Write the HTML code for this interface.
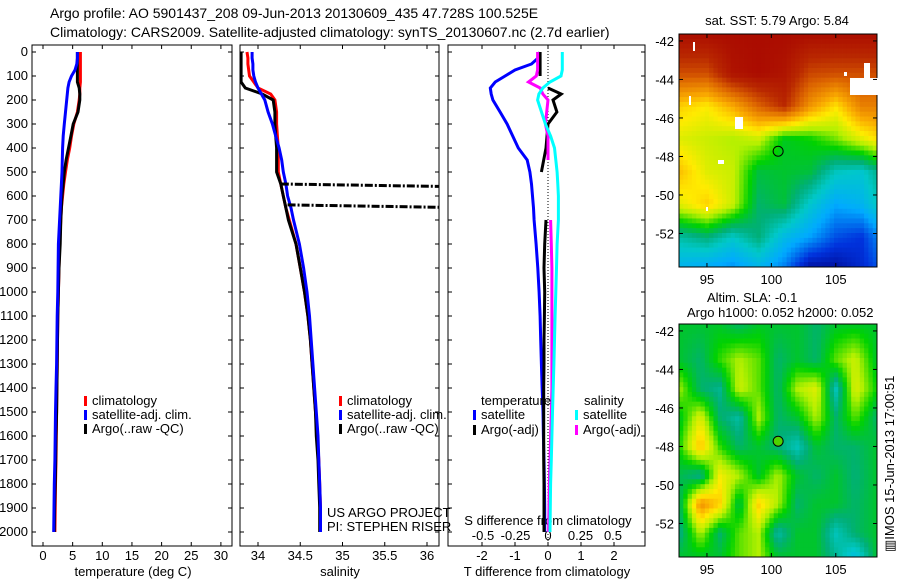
<!DOCTYPE html>
<html><head><meta charset="utf-8">
<style>
html,body{margin:0;padding:0;background:#fff;}
svg{display:block;font-family:"Liberation Sans",sans-serif;}
text{font-size:13px;fill:#000;}
</style></head>
<body>
<svg id="chart" width="900" height="580" viewBox="0 0 900 580" xmlns="http://www.w3.org/2000/svg">
<text x="50" y="18" style="font-size:14px">Argo profile: AO 5901437_208 09-Jun-2013 20130609_435 47.728S 100.525E</text>
<text x="50" y="37" style="font-size:14px">Climatology: CARS2009. Satellite-adjusted climatology: synTS_20130607.nc (2.7d earlier)</text>
<g id="g"></g>
</svg>
<script>
// ---- profile data ----
const depths = [0,25,50,75,100,125,150,175,200,250,300,350,400,450,500,550,600,650,700,800,900,1000,1100,1200,1300,1400,1500,1600,1700,1800,1900,2000];
const tempClim = [6.3,6.3,6.3,6.3,6.3,6.3,6.2,6.2,6.1,5.8,5.2,4.8,4.5,4.1,3.8,3.5,3.3,3.1,3.0,2.8,2.7,2.6,2.5,2.45,2.4,2.35,2.3,2.25,2.2,2.1,2.05,2.0];
const tempSat = [5.8,5.8,5.7,5.4,4.8,4.4,4.2,4.1,4.0,3.8,3.6,3.4,3.3,3.25,3.2,3.1,3.0,2.9,2.8,2.6,2.55,2.5,2.4,2.35,2.3,2.2,2.1,2.05,2.0,1.9,1.85,1.8];
const tempArgo = [5.8,5.8,5.8,5.8,5.8,5.8,6.1,6.2,6.2,5.9,5.1,4.7,4.3,3.9,3.6,3.4,3.2,3.1,3.0,2.9,2.7,2.6,2.5,2.45,2.4,2.35,2.3,2.2,2.15,2.05,1.95,1.9];
const salClim = [33.87,33.88,33.88,33.89,33.9,33.95,34.0,34.15,34.2,34.22,34.22,34.23,34.24,34.24,34.24,34.27,34.3,34.33,34.37,34.45,34.5,34.55,34.59,34.62,34.64,34.66,34.68,34.7,34.72,34.73,34.74,34.74];
const salSat = [33.93,33.93,33.94,33.94,33.95,33.97,34.0,34.04,34.08,34.12,34.17,34.21,34.25,34.28,34.3,34.33,34.35,34.39,34.42,34.49,34.54,34.58,34.61,34.63,34.65,34.67,34.69,34.71,34.72,34.73,34.74,34.74];
const salArgo = [33.8,33.8,33.8,33.8,33.8,33.8,33.85,34.05,34.18,34.2,34.2,34.21,34.22,34.22,34.22,34.27,34.3,34.33,34.36,34.45,34.5,34.55,34.59,34.62,34.64,34.66,34.68,34.69,34.71,34.72,34.73,34.73];
const spikeDepths = [550,637];
const spikeSal = [36.2,36.2];
const tDiffSat = [-0.25,-0.3,-0.5,-1.0,-1.3,-1.6,-1.75,-1.72,-1.67,-1.45,-1.24,-1.07,-0.9,-0.63,-0.55,-0.5,-0.47,-0.44,-0.42,-0.36,-0.31,-0.27,-0.24,-0.22,-0.2,-0.18,-0.15,-0.14,-0.12,-0.11,-0.1,-0.1];
const tDiffArgo = [-0.24,-0.24,-0.24,-0.24,-0.24,null,0,0.4,0.15,0.27,0,-0.03,-0.06,-0.13,-0.2,null,null,null,-0.06,-0.1,-0.12,-0.1,-0.11,-0.12,-0.12,-0.13,-0.13,-0.13,-0.13,-0.12,-0.12,-0.12];
const sDiffSat = [0.11,0.11,0.11,0.11,0.1,0.015,-0.04,-0.07,-0.08,-0.05,-0.02,0.02,0.05,0.06,0.07,0.075,0.08,0.08,0.08,0.07,0.065,0.06,0.055,0.05,0.045,0.04,0.035,0.03,0.025,0.02,0.018,0.015];
const sDiffArgo = [-0.08,-0.08,-0.08,-0.08,-0.09,-0.15,-0.06,-0.04,0,-0.01,-0.02,0,0,0,null,null,null,null,0.02,0.025,0.03,0.03,0.03,0.03,0.03,0.03,0.025,0.02,0.015,0.01,0.008,0.005];
const depthTicks = [0,100,200,300,400,500,600,700,800,900,1000,1100,1200,1300,1400,1500,1600,1700,1800,1900,2000];
const tempTicks = [0,5,10,15,20,25,30];
const salTicks = [34,34.5,35,35.5,36];
const tdTicks = [-2,-1,0,1,2];
const sdTicks = [-0.5,-0.25,0,0.25,0.5];
const sdTickLabels = ["-0.5","-0.25","0","0.25","0.5"];
// ---- map data (coarse grids, 0..1 colour index) ----
const sstLats = [-41.6,-43.7,-45.4,-47.1,-48.8,-50.5,-52.2,-53.8];
const sstLons = [92.8,95,97,99,101,103,105,107,108.2];
const sstRows = [
[0.97,0.97,0.97,0.97,0.97,0.97,0.97,0.97,0.97],
[0.85,0.85,0.95,0.97,0.95,0.86,0.85,0.85,0.85],
[0.68,0.65,0.72,0.82,0.9,0.75,0.66,0.78,0.78],
[0.62,0.6,0.58,0.6,0.48,0.5,0.55,0.62,0.66],
[0.7,0.62,0.6,0.46,0.47,0.46,0.36,0.34,0.4],
[0.62,0.68,0.6,0.43,0.46,0.34,0.25,0.28,0.35],
[0.38,0.42,0.35,0.42,0.3,0.24,0.15,0.12,0.2],
[0.28,0.25,0.22,0.28,0.2,0.04,0.04,0.1,0.15]];
const slaLats = [-41.6,-43.5,-45,-46.5,-48,-49.5,-51,-52.5,-53.8];
const slaLons = [92.8,94.5,96,97.5,99,100.5,102,103.5,105,106.5,108.2];
const slaRows = [
[0.47,0.47,0.47,0.43,0.47,0.47,0.47,0.43,0.47,0.47,0.47],
[0.47,0.43,0.52,0.58,0.54,0.43,0.47,0.43,0.54,0.6,0.47],
[0.58,0.43,0.4,0.6,0.54,0.43,0.58,0.62,0.36,0.62,0.5],
[0.47,0.62,0.43,0.38,0.58,0.43,0.47,0.58,0.43,0.54,0.43],
[0.5,0.7,0.52,0.43,0.47,0.42,0.36,0.47,0.43,0.43,0.47],
[0.45,0.4,0.64,0.58,0.47,0.58,0.47,0.43,0.47,0.42,0.47],
[0.42,0.76,0.68,0.45,0.68,0.58,0.43,0.47,0.47,0.43,0.47],
[0.4,0.58,0.43,0.54,0.58,0.38,0.47,0.47,0.36,0.43,0.47],
[0.47,0.47,0.47,0.54,0.58,0.47,0.47,0.47,0.4,0.3,0.47]];

const NS='http://www.w3.org/2000/svg';
const G=document.getElementById('g');
function mk(tag,attrs,parent){const e=document.createElementNS(NS,tag);for(const k in attrs)e.setAttribute(k,attrs[k]);(parent||G).appendChild(e);return e;}
const yD=d=>52+d*0.24;
const PB=546;
const xT=v=>43+v*5.93;
const xS=v=>258+(v-34)*84.5;
const xTD=v=>548+v*33;
const xSD=v=>548+v*130;

function frame(x0,x1,name){
  const r=mk('rect',{x:x0,y:45,width:x1-x0,height:PB-45,fill:'none',stroke:'#000','stroke-width':1});
  
  
}
function text(x,y,s,name,anchor,extra){
  const t=mk('text',Object.assign({x:x,y:y,'text-anchor':anchor||'start'},extra||{}));
  t.textContent=s;
  
  
  return t;
}
function line(xs,color,name,w){
  let d='',pen=false;
  for(let i=0;i<depths.length;i++){
    const v=xs.vals[i];
    if(v===null||v===undefined){pen=false;continue;}
    d+=(pen?'L':'M')+xs.f(v).toFixed(1)+' '+yD(depths[i]).toFixed(1);pen=true;
  }
  const p=mk('path',{d:d,fill:'none',stroke:color,'stroke-width':w||3,'stroke-linejoin':'miter'});
  
  
}
frame(32,232,'temperature-panel');
frame(240,439,'salinity-panel');
frame(448,645,'difference-panel');
depthTicks.forEach(d=>{
  const y=yD(d);
  text(28,y+4,String(d),'depth-tick-label','end');
  [[32,1],[232,-1],[240,1],[439,-1],[448,1],[645,-1]].forEach(([x,s])=>mk('line',{x1:x,x2:x+4*s,y1:y,y2:y,stroke:'#000'}));
});
tempTicks.forEach(v=>{const x=xT(v);text(x,560,String(v),'temperature-tick-label','middle');mk('line',{x1:x,x2:x,y1:PB,y2:PB-4,stroke:'#000'});mk('line',{x1:x,x2:x,y1:45,y2:49,stroke:'#000'});});
salTicks.forEach(v=>{const x=xS(v);text(x,560,String(v),'salinity-tick-label','middle');mk('line',{x1:x,x2:x,y1:PB,y2:PB-4,stroke:'#000'});mk('line',{x1:x,x2:x,y1:45,y2:49,stroke:'#000'});});
tdTicks.forEach(v=>{const x=xTD(v);text(x,560,String(v),'t-diff-tick-label','middle');mk('line',{x1:x,x2:x,y1:PB,y2:PB-4,stroke:'#000'});mk('line',{x1:x,x2:x,y1:45,y2:49,stroke:'#000'});});
sdTicks.forEach((v,i)=>{text(xSD(v),540,sdTickLabels[i],'s-diff-tick-label','middle');});
text(133,576,'temperature (deg C)','temperature-axis-title','middle');
text(340,576,'salinity','salinity-axis-title','middle');
text(547,576,'T difference from climatology','t-diff-axis-title','middle');
text(548,525,'S difference from climatology','s-diff-axis-title','middle');
text(327,517,'US ARGO PROJECT','project-label');
text(327,531,'PI: STEPHEN RISER','pi-label');
const z=mk('line',{x1:548,x2:548,y1:45,y2:PB,stroke:'#000','stroke-dasharray':'1 2'});

line({vals:tempClim,f:xT},'#f00','temp-climatology-line');
line({vals:tempArgo,f:xT},'#000','temp-argo-line');
line({vals:tempSat,f:xT},'#00f','temp-satellite-line');
line({vals:salClim,f:xS},'#f00','sal-climatology-line');
line({vals:salArgo,f:xS},'#000','sal-argo-line');
line({vals:salSat,f:xS},'#00f','sal-satellite-line');
spikeDepths.forEach((d,i)=>{
  const idx=depths.findIndex(x=>x>=d);
  const s0=salArgo[Math.max(0,idx-1)];
  const p=mk('path',{d:'M'+xS(s0+0.05)+' '+yD(d)+'L'+Math.min(439,xS(spikeSal[i]))+' '+yD(d+10),stroke:'#000','stroke-width':3,'stroke-dasharray':'8 2 2 2',fill:'none'});
  
});
line({vals:tDiffSat,f:xTD},'#00f','tdiff-satellite-line');
line({vals:tDiffArgo,f:xTD},'#000','tdiff-argo-line');
line({vals:sDiffArgo,f:xSD},'#f0f','sdiff-argo-line');
line({vals:sDiffSat,f:xSD},'#0ff','sdiff-satellite-line');
function leg(x,y,color,label){
  const r=mk('rect',{x:x,y:y-9,width:3,height:10,fill:color});
  
  text(x+8,y,label,'legend-entry');
}
[[84,'#f00','climatology'],[84,'#00f','satellite-adj. clim.'],[84,'#000','Argo(..raw -QC)']].forEach((a,i)=>leg(a[0],405+i*14,a[1],a[2]));
[[339,'#f00','climatology'],[339,'#00f','satellite-adj. clim.'],[339,'#000','Argo(..raw -QC)']].forEach((a,i)=>leg(a[0],405+i*14,a[1],a[2]));
text(481,405,'temperature','legend-title-temperature');
text(584,405,'salinity','legend-title-salinity');
leg(473,419,'#00f','satellite');leg(473,434,'#000','Argo(-adj)');
leg(575,419,'#0ff','satellite');leg(575,434,'#f0f','Argo(-adj)');

const stops=[[0,[0,0,130]],[0.12,[0,50,220]],[0.25,[0,170,255]],[0.35,[0,200,200]],[0.42,[0,175,120]],[0.5,[0,210,0]],[0.58,[180,240,0]],[0.65,[255,235,0]],[0.72,[250,170,0]],[0.82,[220,100,0]],[0.9,[185,40,0]],[1,[165,0,0]]];
function cmap(v){v=Math.max(0,Math.min(1,v));for(let i=1;i<stops.length;i++){if(v<=stops[i][0]){const a=stops[i-1],b=stops[i];const t=(v-a[0])/(b[0]-a[0]);const c=a[1].map((x,k)=>Math.round(x+(b[1][k]-x)*t));return 'rgb('+c.join(',')+')';}}return 'rgb(165,0,0)';}
function interp(lats,lons,rows,lat,lon){
  let i=0;while(i<lats.length-2&&lat<lats[i+1])i++;
  let j=0;while(j<lons.length-2&&lon>lons[j+1])j++;
  const ty=Math.max(0,Math.min(1,(lat-lats[i])/(lats[i+1]-lats[i])));
  const tx=Math.max(0,Math.min(1,(lon-lons[j])/(lons[j+1]-lons[j])));
  const a=rows[i][j],b=rows[i][j+1],c=rows[i+1][j],d=rows[i+1][j+1];
  return a*(1-tx)*(1-ty)+b*tx*(1-ty)+c*(1-tx)*ty+d*tx*ty;
}
function map(top,lats,lons,rows,name){
  const L=679,R=877,H=233;
  const g=mk('g',{});
  
  const nx=46,ny=48,cw=(R-L)/nx,ch=H/ny;
  const lonA=92.83,lonB=108.2,latA=-41.64,latB=-53.74;
  for(let r=0;r<ny;r++)for(let c=0;c<nx;c++){
    const lat=latA+(latB-latA)*(r+0.5)/ny,lon=lonA+(lonB-lonA)*(c+0.5)/nx;
    mk('rect',{x:(L+c*cw).toFixed(2),y:(top+r*ch).toFixed(2),width:(cw+0.4).toFixed(2),height:(ch+0.4).toFixed(2),fill:cmap(interp(lats,lons,rows,lat,lon))},g);
  }
  mk('rect',{x:L,y:top,width:R-L,height:H,fill:'none',stroke:'#000'},g);
  const xl=lon=>L+(lon-lonA)*(R-L)/(lonB-lonA);
  const yl=lat=>top+(lat-latA)*H/(latB-latA);
  [-42,-44,-46,-48,-50,-52].forEach(la=>{text(674,yl(la)+5,String(la),'map-lat-label','end');mk('line',{x1:L,x2:L+4,y1:yl(la),y2:yl(la),stroke:'#000'});mk('line',{x1:R,x2:R-4,y1:yl(la),y2:yl(la),stroke:'#000'});});
  [95,100,105].forEach(lo=>{text(xl(lo),top+H+17,String(lo),'map-lon-label','middle');mk('line',{x1:xl(lo),x2:xl(lo),y1:top,y2:top+4,stroke:'#000'});mk('line',{x1:xl(lo),x2:xl(lo),y1:top+H,y2:top+H-4,stroke:'#000'});});
  return {xl,yl,g};
}
const m1=map(34,sstLats,sstLons,sstRows,'sst-map');
[[693,42,2,9],[850,78,28,17],[864,63,6,15],[844,72,3,4],[689,96,2,9],[735,117,8,12],[718,160,6,4],[706,207,2,4]].forEach(r=>mk('rect',{x:r[0],y:r[1],width:r[2],height:r[3],fill:'#fff'},m1.g));
const c1=mk('circle',{cx:m1.xl(100.525),cy:m1.yl(-47.728),r:5,fill:'none',stroke:'#000'});

text(777,25,'sat. SST: 5.79 Argo: 5.84','sst-map-title','middle');
const m2=map(324,slaLats,slaLons,slaRows,'sla-map');
const c2=mk('circle',{cx:m2.xl(100.525),cy:m2.yl(-47.728),r:5,fill:'rgb(80,210,0)',stroke:'#000'});

text(707,302,'Altim. SLA: -0.1','sla-map-title');
text(687,317,'Argo h1000: 0.052 h2000: 0.052','sla-map-subtitle');
text(0,0,'\u25A5IMOS 15-Jun-2013 17:00:51','imos-timestamp','start',{transform:'translate(894,552) rotate(-90)'});
</script>
</body></html>
